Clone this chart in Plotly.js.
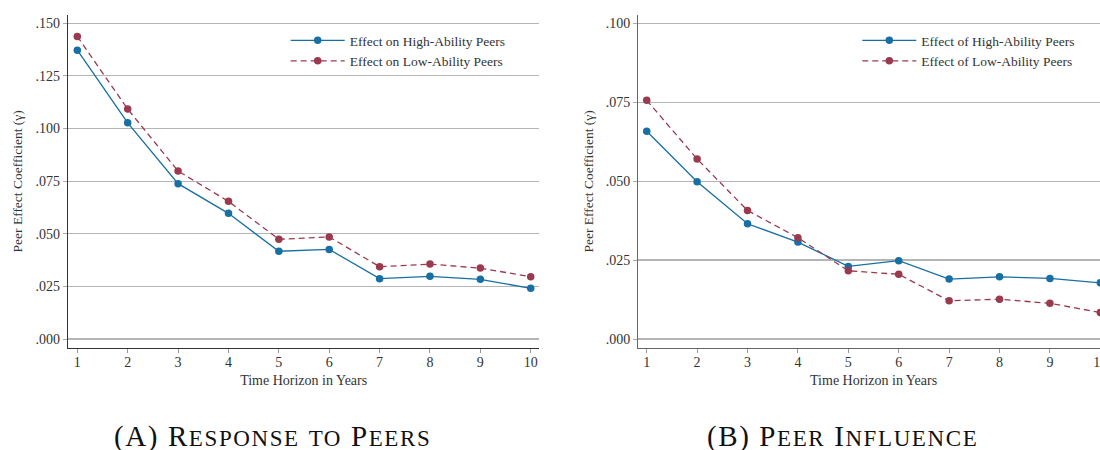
<!DOCTYPE html>
<html><head><meta charset="utf-8">
<script src="https://cdn.plot.ly/plotly-3.0.1.min.js"></script>
<style>html,body{margin:0;padding:0;overflow:hidden;background:#fff;width:1100px;height:450px}#chart{width:1120px;height:450px}</style>
</head><body><div id="chart"></div>
<script>
const years = [1,2,3,4,5,6,7,8,9,10];
const responseHigh = [0.1372,0.1027,0.0738,0.0597,0.0417,0.0426,0.0287,0.0298,0.0284,0.0241];
const responseLow = [0.1437,0.1092,0.0798,0.0654,0.0474,0.0485,0.0344,0.0356,0.0337,0.0296];
const influenceHigh = [0.0658,0.0498,0.0365,0.0307,0.0230,0.0248,0.0190,0.0197,0.0192,0.0178];
const influenceLow = [0.0756,0.0570,0.0407,0.0321,0.0216,0.0205,0.0121,0.0126,0.0113,0.0084];
const leftTicks = [0,0.025,0.05,0.075,0.1,0.125,0.15];
const rightTicks = [0,0.025,0.05,0.075,0.1];
const fmt = v => v.toFixed(3).replace(/^0/, '');

const blue = '#176fa4', red = '#9a3a4f';
function tr(x, y, name, color, dash, xa, ya, leg) {
  return {x: x, y: y, name: name, type: 'scatter', mode: 'lines+markers',
    line: {color: color, width: 1.3, dash: dash}, marker: {color: color, size: 7.5},
    xaxis: xa, yaxis: ya, legend: leg, cliponaxis: false};
}
const data = [
  tr(years, responseHigh, 'Effect on High-Ability Peers', blue, 'solid', 'x', 'y', 'legend'),
  tr(years, responseLow, 'Effect on Low-Ability Peers', red, '6px,4px', 'x', 'y', 'legend'),
  tr(years, influenceHigh, 'Effect of High-Ability Peers', blue, 'solid', 'x2', 'y2', 'legend2'),
  tr(years, influenceLow, 'Effect of Low-Ability Peers', red, '6px,4px', 'x2', 'y2', 'legend2')
];
const ff = '"Liberation Serif", "Times New Roman", serif';
function xax(domain, range, anchor, lc) {
  return {domain: domain, range: range, anchor: anchor, tickvals: years, ticks: 'outside', ticklen: 4,
    tickcolor: '#999', showgrid: false, showline: true, linecolor: lc, linewidth: 1.3, zeroline: false,
    tickfont: {size: 14, color: '#333'}, ticklabelstandoff: -3,
    title: {text: 'Time Horizon in Years', font: {size: 14, color: '#333'}, standoff: 6}};
}
function yax(domain, range, anchor, ticks, lc) {
  return {domain: domain, range: range, anchor: anchor, tickvals: ticks, ticktext: ticks.map(fmt),
    ticks: 'outside', ticklen: 4, tickcolor: '#aaa', showgrid: true, gridcolor: '#b5b5b5', gridwidth: 1.2,
    zeroline: false, showline: true, linecolor: lc, linewidth: 1.3,
    tickfont: {size: 14, color: '#333'},
    title: {text: 'Peer Effect Coefficient (γ)', font: {size: 13.5, color: '#333'}, standoff: 9}};
}
const capBig = 29, capSmall = 23;
function caps(label, words) {
  return '<span style="letter-spacing:1.6px">(' + label + ') ' + words.map(w => w.length > 2 ?
    w[0].toUpperCase() + '<span style="font-size:' + capSmall + 'px">' + w.slice(1).toUpperCase() + '</span>' :
    '<span style="font-size:' + capSmall + 'px">' + w.toUpperCase() + '</span>').join(' ') + '</span>';
}
const layout = {
  width: 1120, height: 450, margin: {l: 0, r: 0, t: 0, b: 0},
  paper_bgcolor: '#fff', plot_bgcolor: '#fff',
  font: {family: ff, size: 13, color: '#333'},
  showlegend: true,
  xaxis: xax([0.06071, 0.48152], [0.815, 10.17], 'y', '#333'),
  yaxis: yax([0.2273, 0.9667], [-0.0041, 0.1539], 'x', leftTicks, '#333'),
  xaxis2: xax([0.56991, 0.99009], [0.833, 10.17], 'y2', '#666'),
  yaxis2: yax([0.2273, 0.9667], [-0.00275, 0.1026], 'x2', rightTicks, '#666'),
  legend: {x: 285.7 / 1120, xanchor: 'left', y: 1 - 25 / 450, yanchor: 'top', bgcolor: 'rgba(0,0,0,0)',
    borderwidth: 0, font: {size: 13.5, color: '#333'}, itemwidth: 54},
  legend2: {x: 857.3 / 1120, xanchor: 'left', y: 1 - 25 / 450, yanchor: 'top', bgcolor: 'rgba(0,0,0,0)',
    borderwidth: 0, font: {size: 13.5, color: '#333'}, itemwidth: 54},
  annotations: [
    {xref: 'paper', yref: 'paper', x: 272.5 / 1120, y: 1 - 436 / 450, xanchor: 'center', yanchor: 'middle',
     showarrow: false, text: caps('A', ['Response', 'to', 'Peers']), font: {family: ff, size: capBig, color: '#111'}},
    {xref: 'paper', yref: 'paper', x: 842 / 1120, y: 1 - 436 / 450, xanchor: 'center', yanchor: 'middle',
     showarrow: false, text: caps('B', ['Peer', 'Influence']), font: {family: ff, size: capBig, color: '#111'}}
  ]
};
Plotly.newPlot('chart', data, layout, {displayModeBar: false, staticPlot: true});
</script></body></html>
